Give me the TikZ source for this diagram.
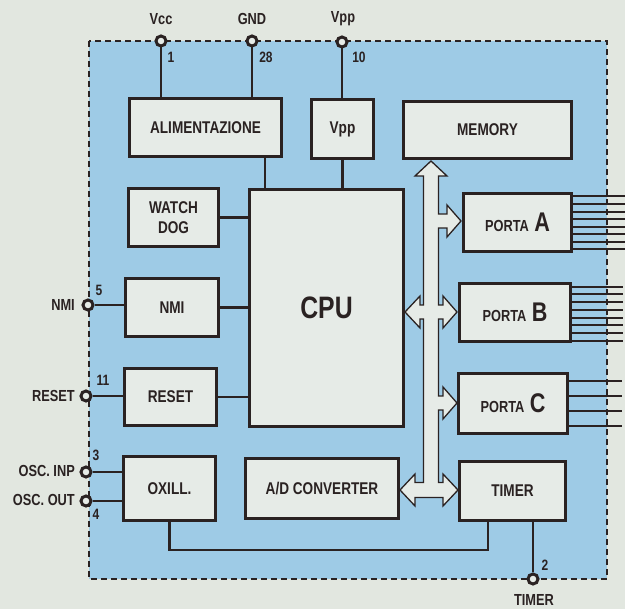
\documentclass[tikz,border=0pt]{standalone}
\usepackage{fontspec}
\setmainfont{Liberation Sans}[FakeStretch=0.8]
\usepackage{xcolor}
\definecolor{paper}{RGB}{226,231,224}
\definecolor{chipblue}{RGB}{158,203,230}
\definecolor{boxfill}{RGB}{230,235,231}
\definecolor{ink}{RGB}{42,34,34}

\begin{document}
\begin{tikzpicture}[x=1pt,y=-1pt,
    blk/.style={draw=ink, line width=3.8pt, fill=boxfill, align=center, inner sep=0pt,
        text=ink, font=\bfseries\fontsize{17}{20}\selectfont},
    wire/.style={draw=ink, line width=2.6pt},
    pin/.style={circle, draw=ink, line width=3pt, fill=boxfill, minimum size=10pt, inner sep=0pt},
    lbl/.style={text=ink, inner sep=1pt, font=\bfseries\fontsize{16}{18}\selectfont},
    num/.style={text=ink, inner sep=1pt, font=\bfseries\fontsize{15}{17}\selectfont},
    portline/.style={draw=ink, line width=1.4pt}]
    \useasboundingbox (0,0) rectangle (625,609);
    \fill[paper] (0,0) rectangle (625,609);

    % chip outline
    \fill[chipblue] (89,41) rectangle (607,579);
    \draw[ink, line width=1.3pt, dash pattern=on 6pt off 4pt] (89,41) rectangle (607,579);

    % blocks
    \node[blk, minimum width=152pt, minimum height=58pt] (alim) at (205.5,127.5) {ALIMENTAZIONE};
    \node[blk, minimum width=62pt, minimum height=59pt] (vppbox) at (342.5,129) {Vpp};
    \node[blk, minimum width=168pt, minimum height=57pt] (memory) at (487.5,130) {MEMORY};
    \node[blk, minimum width=90pt, minimum height=58pt] (watchdog) at (173.5,217.5) {WATCH\\DOG};
    \node[blk, minimum width=154pt, minimum height=237pt,
          font=\bfseries\fontsize{31}{34}\selectfont] (cpu) at (326.5,308) {CPU};
    \node[blk, minimum width=93pt, minimum height=58pt] (nmi) at (172,307.5) {NMI};
    \node[blk, minimum width=92pt, minimum height=57pt] (reset) at (170.5,397) {RESET};
    \node[blk, minimum width=92pt, minimum height=64pt] (oxill) at (169.5,488.5) {OXILL.};
    \node[blk, minimum width=153pt, minimum height=60pt] (adc) at (322,488.5) {A/D CONVERTER};
    \node[blk, minimum width=106pt, minimum height=59pt] (timer) at (512.5,491) {TIMER};
    \node[blk, minimum width=108pt, minimum height=58pt] (porta) at (517.5,222.5)
        {{\fontsize{16}{18}\selectfont PORTA\,\,}{\fontsize{27}{29}\selectfont A}};
    \node[blk, minimum width=111pt, minimum height=58pt] (portb) at (515,312.5)
        {{\fontsize{16}{18}\selectfont PORTA\,\,}{\fontsize{27}{29}\selectfont B}};
    \node[blk, minimum width=109pt, minimum height=60pt] (portc) at (513,403.5)
        {{\fontsize{16}{18}\selectfont PORTA\,\,}{\fontsize{27}{29}\selectfont C}};

    % pins
    \node[pin] (vcc) at (161,41) {};
    \node[pin] (gnd) at (252,41) {};
    \node[pin] (vpp) at (342,42) {};
    \node[pin] (nmipin) at (88,305) {};
    \node[pin] (resetpin) at (86,396) {};
    \node[pin] (oscin) at (86,472) {};
    \node[pin] (oscout) at (86,501) {};
    \node[pin] (timerpin) at (533,579) {};

    \node[lbl] at (161,19) {Vcc};
    \node[lbl] at (252,19) {GND};
    \node[lbl] at (343,19) {Vpp};
    \node[num] at (171,57) {1};
    \node[num] at (266,57) {28};
    \node[num] at (359,57) {10};
    \node[lbl, anchor=east] at (76,305) {NMI};
    \node[lbl, anchor=east] at (76,396) {RESET};
    \node[lbl, anchor=east] at (76,471) {OSC. INP};
    \node[lbl, anchor=east] at (76,500) {OSC. OUT};
    \node[num] at (99,290) {5};
    \node[num] at (103,380) {11};
    \node[num] at (96,455) {3};
    \node[num] at (96,514) {4};
    \node[num] at (545,565) {2};
    \node[lbl] at (534,600) {TIMER};

    % wires
    \draw[wire] (vcc) -- (vcc |- alim.north);
    \draw[wire] (gnd) -- (gnd |- alim.north);
    \draw[wire] (vpp) -- (vpp |- vppbox.north);
    \draw[wire] ([xshift=59.5pt]alim.south) coordinate (alimout) -- (alimout |- cpu.north);
    \draw[wire] (vppbox.south) -- (vppbox.south |- cpu.north);
    \draw[wire] (watchdog.east) -- (watchdog.east -| cpu.west);
    \draw[wire] (nmi.east) -- (nmi.east -| cpu.west);
    \draw[wire] (reset.east) -- (reset.east -| cpu.west);
    \draw[wire] (nmipin) -- (nmipin -| nmi.west);
    \draw[wire] (resetpin) -- (resetpin -| reset.west);
    \draw[wire] (oscin) -- (oscin -| oxill.west);
    \draw[wire] (oscout) -- (oscout -| oxill.west);
    \draw[wire, line width=2.2pt] (oxill.south) -- ++(0,28) -| ([xshift=-24.5pt]timer.south);
    \draw[wire] ([xshift=20.5pt]timer.south) -- (timerpin);

    % port lines
    \foreach \y in {196,204,212,219,227,234,242,249}
        \draw[portline] (porta.east |- 0,\y) -- (625,\y);
    \foreach \y in {287,294,302,310,318,325,333,341}
        \draw[portline] (portb.east |- 0,\y) -- (623,\y);
    \foreach \y in {381,396,411,426}
        \draw[portline] (portc.east |- 0,\y) -- (622,\y);

    % data bus
    \draw[ink, line width=1.3pt, fill=boxfill, line join=miter]
        (431,161) -- (447,176) -- (438.5,176)
        -- (438.5,214) -- (447,214) -- (447,205) -- (461,221) -- (447,237) -- (447,228) -- (438.5,228)
        -- (438.5,305) -- (443,305) -- (443,296) -- (457,312) -- (443,328) -- (443,319) -- (438.5,319)
        -- (438.5,396) -- (443,396) -- (443,387) -- (457,403) -- (443,419) -- (443,410) -- (438.5,410)
        -- (438.5,482.5) -- (443,482.5) -- (443,474) -- (458,490) -- (443,506) -- (443,497.5)
        -- (415,497.5) -- (415,506) -- (400,490) -- (415,474) -- (415,482.5) -- (423.5,482.5)
        -- (423.5,319) -- (420,319) -- (420,328) -- (405,312) -- (420,296) -- (420,305) -- (423.5,305)
        -- (423.5,176) -- (415,176) -- cycle;
\end{tikzpicture}
\end{document}
